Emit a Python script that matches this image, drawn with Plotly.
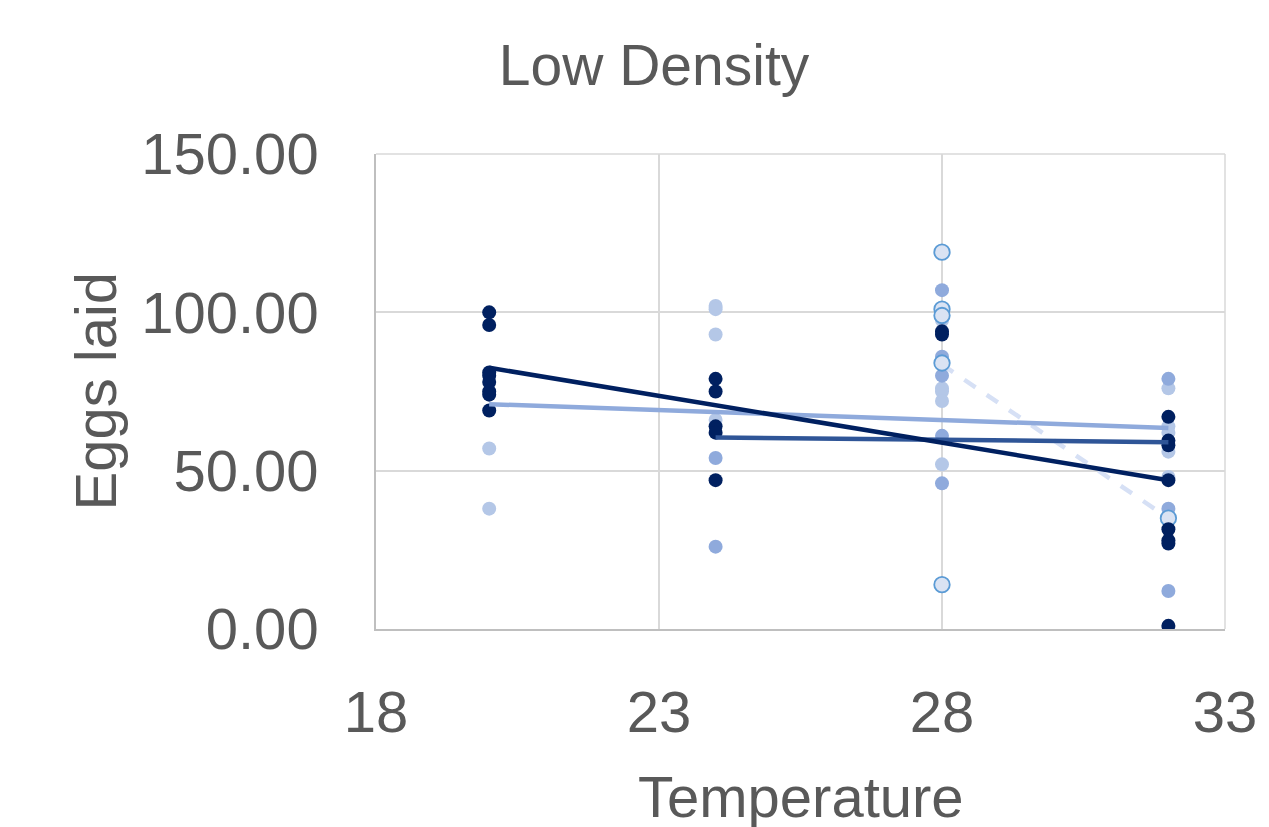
import plotly.graph_objects as go

# ---- data ----
navy_x = [20]*8 + [24]*5 + [28]*2 + [32]*8
navy_y = [100, 96, 81, 80, 78, 75, 74, 69,
          79, 75, 64, 62, 47,
          94, 93,
          67, 59.5, 58, 47, 31.5, 28, 27, 1]

mid_x = [24]*2 + [28]*5 + [32]*3
mid_y = [54, 26,
         107, 86, 80, 61, 46,
         79, 38, 12]

pale_x = [20]*2 + [24]*4 + [28]*5 + [32]*5
pale_y = [57, 38,
          102, 101, 93, 66,
          97.5, 76, 75, 72, 52,
          76, 64, 62, 56, 48]

open_x = [28]*5 + [32]
open_y = [119, 101, 99, 84, 14, 35]

trend_navy_x = [20, 32]
trend_navy_y = [82.5, 47]
trend_mid_x = [20, 32]
trend_mid_y = [71, 63.5]
trend_dark_x = [24, 32]
trend_dark_y = [60.5, 59]
trend_pale_x = [28, 32]
trend_pale_y = [83.5, 35]

x_ticks = [18, 23, 28, 33]
y_ticks = [0, 50, 100, 150]

NAVY = "#002060"
MID = "#8FAADC"
DARK = "#2F5597"
PALE = "#B4C7E7"
OPEN_FILL = "#DAE3F3"
OPEN_LINE = "#5B9BD5"
TXT = "#595959"
GRID = "#D9D9D9"
AXIS = "#BFBFBF"
FONT = "Liberation Sans"
FS = 58

fig = go.Figure()

fig.add_trace(go.Scatter(x=trend_pale_x, y=trend_pale_y, mode="lines",
                         line=dict(color="#D6E0F5", width=4.5, dash="dash"),
                         showlegend=False, hoverinfo="skip"))
fig.add_trace(go.Scatter(x=pale_x, y=pale_y, mode="markers",
                         marker=dict(color=PALE, size=14), showlegend=False))
fig.add_trace(go.Scatter(x=mid_x, y=mid_y, mode="markers",
                         marker=dict(color=MID, size=14), showlegend=False))
fig.add_trace(go.Scatter(x=open_x, y=open_y, mode="markers",
                         marker=dict(color=OPEN_FILL, size=15.5,
                                     line=dict(color=OPEN_LINE, width=1.8)),
                         showlegend=False))
fig.add_trace(go.Scatter(x=navy_x, y=navy_y, mode="markers",
                         marker=dict(color=NAVY, size=14), showlegend=False))
fig.add_trace(go.Scatter(x=trend_mid_x, y=trend_mid_y, mode="lines",
                         line=dict(color=MID, width=4.5),
                         showlegend=False, hoverinfo="skip"))
fig.add_trace(go.Scatter(x=trend_dark_x, y=trend_dark_y, mode="lines",
                         line=dict(color=DARK, width=4.5),
                         showlegend=False, hoverinfo="skip"))
fig.add_trace(go.Scatter(x=trend_navy_x, y=trend_navy_y, mode="lines",
                         line=dict(color=NAVY, width=4.5),
                         showlegend=False, hoverinfo="skip"))

fig.update_layout(
    width=1269, height=827,
    paper_bgcolor="white", plot_bgcolor="white",
    margin=dict(l=376, r=35, t=154, b=198),
    font=dict(family=FONT, color=TXT, size=FS),
    title=dict(text="Low Density", x=654/1269, xanchor="center",
               y=1-65/827, yanchor="middle", yref="container",
               font=dict(family=FONT, size=57, color=TXT)),
    xaxis=dict(range=[18, 33], tickvals=x_ticks, ticktext=[str(v) for v in x_ticks],
               showgrid=True, gridcolor=GRID, gridwidth=1.5,
               showline=True, linecolor=AXIS, linewidth=1.5, mirror=False,
               zeroline=False, ticks="outside", ticklen=32,
               tickcolor="rgba(0,0,0,0)",
               tickfont=dict(family=FONT, size=FS, color=TXT)),
    yaxis=dict(range=[0, 150], tickvals=y_ticks,
               ticktext=[f"{v:.2f}" for v in y_ticks],
               showgrid=True, gridcolor=GRID, gridwidth=1.5,
               showline=True, linecolor=AXIS, linewidth=1.5, mirror=False,
               zeroline=False, ticks="outside", ticklen=44,
               tickcolor="rgba(0,0,0,0)",
               tickfont=dict(family=FONT, size=FS, color=TXT)),
    shapes=[
        dict(type="line", xref="paper", yref="paper", x0=0, x1=1, y0=1, y1=1,
             line=dict(color=GRID, width=1.5), layer="below"),
        dict(type="line", xref="paper", yref="paper", x0=1, x1=1, y0=0, y1=1,
             line=dict(color=GRID, width=1.5), layer="below"),
    ],
    annotations=[
        dict(text="Temperature", xref="paper", yref="paper",
             x=0.5, y=(628-795)/474, xanchor="center", yanchor="middle",
             showarrow=False, font=dict(family=FONT, size=FS, color=TXT)),
        dict(text="Eggs laid", xref="paper", yref="paper",
             x=(95-376)/852, y=(628-390)/474, xanchor="center", yanchor="middle",
             textangle=-90, showarrow=False,
             font=dict(family=FONT, size=FS, color=TXT)),
    ],
)

fig.write_html("out.html", config={"displayModeBar": False},
               post_script="document.body.style.margin='0';document.body.style.overflow='hidden';")
